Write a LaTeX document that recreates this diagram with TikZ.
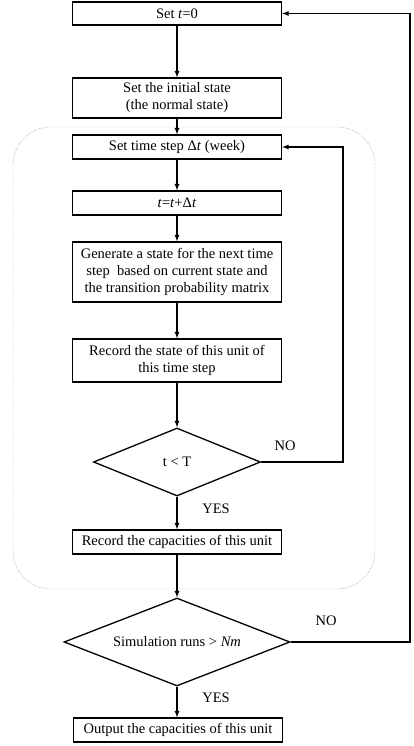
\documentclass[tikz,border=0pt]{standalone}
\usepackage{fontspec}
\setmainfont{Liberation Serif}
\usetikzlibrary{shapes.geometric, arrows}
\tikzset{box/.style={draw, line width=1.3pt, minimum width=209pt, align=center, inner sep=2pt}}
\tikzset{test/.style={draw, diamond, line width=1.3pt, inner sep=0pt, aspect=2.5}}
\tikzset{arr/.style={line width=1.2pt, -latex}}
\tikzset{tag/.style={fill=white, inner sep=3pt}}
\begin{document}
\begin{tikzpicture}[x=1pt, y=-1pt, font=\fontsize{14.5}{17}\selectfont]
        \useasboundingbox (0,0) rectangle (413,746);
        % Outer frame of the time loop
        \draw[black!55, densely dotted, rounded corners=38pt] (13,127) rectangle (375,589);
        % Steps
        \node[box, minimum height=23pt] (start) at (177,13.5) {Set \textit{t}=0};
        \node[box, minimum height=40pt] (init) at (177,98) {Set the initial state\\(the normal state)};
        \node[box, minimum height=24pt] (step) at (177,147) {Set time step Δ\textit{t} (week)};
        \node[box, minimum height=24pt] (incr) at (177,203) {\textit{t}=\textit{t}+Δ\textit{t}};
        \node[box, minimum height=60pt] (gen) at (177,272) {Generate a state for the next time\\step~ based on current state and\\the transition probability matrix};
        \node[box, minimum height=43pt] (rec) at (177,360.5) {Record the state of this unit of\\this time step};
        \node[test, aspect=2.46, minimum width=167pt, minimum height=68pt] (tlt) at (177,462) {t < T};
        \node[box, minimum height=24pt] (cap) at (177,542) {Record the capacities of this unit};
        \node[test, aspect=2.57, minimum width=226pt, minimum height=88pt] (runs) at (177,642) {Simulation runs > \textit{Nm}};
        \node[box, minimum height=24pt] (out) at (178,730) {Output the capacities of this unit};
        % Straight flow
        \foreach \a/\b in {start/init, init/step, step/incr, incr/gen, gen/rec, rec/tlt, tlt/cap, cap/runs} {
          \draw[arr] (\a) -- (\b);
        }
        \draw[arr] (runs.south) -- (runs.south |- out.north);
        % Loops back
        \coordinate (inner) at (343,0);
        \coordinate (outer) at (410,0);
        \draw[arr] (tlt.east) -- (tlt.east -| inner) -- (step.east -| inner) -- (step.east);
        \draw[arr] (runs.east) -- (runs.east -| outer) -- (start.east -| outer) -- (start.east);
        % Branch labels
        \node[tag] (no1) at (285,446) {NO};
        \node[tag] (yes1) at (216,509) {YES};
        \node[tag] (no2) at (326,621) {NO};
        \node[tag] (yes2) at (216,698) {YES};
        \end{tikzpicture}
\end{document}
